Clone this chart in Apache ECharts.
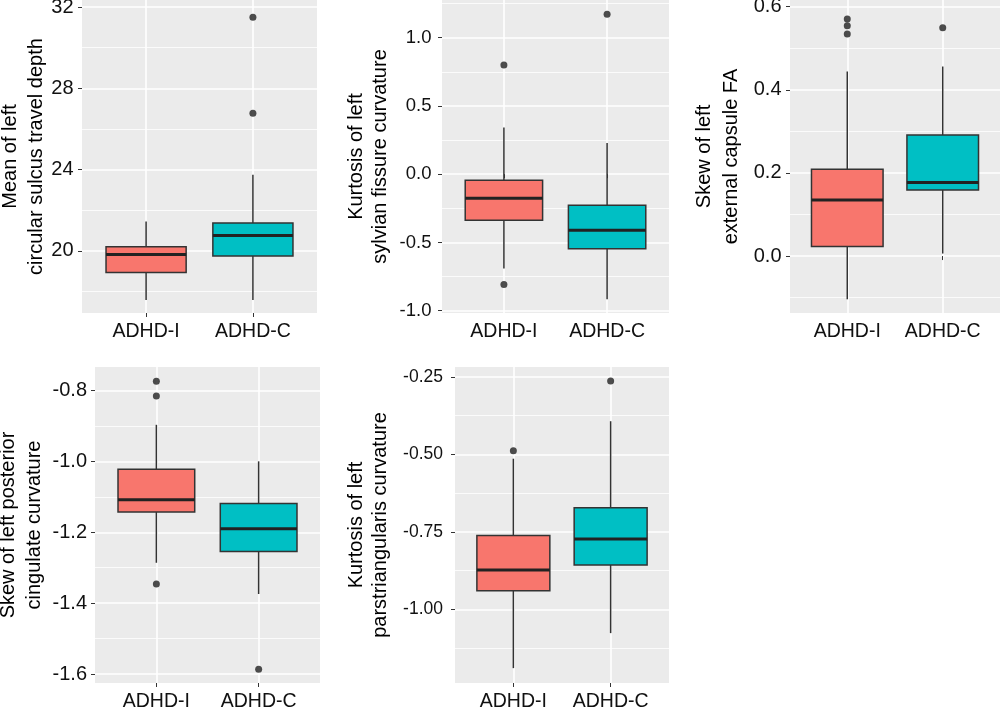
<!DOCTYPE html>
<html>
<head>
<meta charset="utf-8">
<script src="https://cdn.jsdelivr.net/npm/echarts@6/dist/echarts.min.js"></script>
<style>
html,body{margin:0;padding:0;background:#fff;}
#chart{width:1000px;height:709px;}
</style>
</head>
<body>
<div id="chart"></div>
<script>
// ---------- data ----------
const categories = ['ADHD-I', 'ADHD-C'];
const boxColors = ['#F8766D', '#00BFC4'];

// each box: [lower whisker, Q1, median, Q3, upper whisker]
const depthBoxes = [[17.58, 18.93, 19.82, 20.20, 21.45], [17.58, 19.75, 20.76, 21.37, 23.75]];
const depthOutliers = [[2, 31.5], [2, 26.77]];
const depthTicks = [20, 24, 28, 32];

const sylvianBoxes = [[-0.691, -0.337, -0.176, -0.044, 0.342], [-0.916, -0.547, -0.410, -0.227, 0.229]];
const sylvianOutliers = [[1, 0.80], [1, -0.808], [2, 1.171]];
const sylvianTicks = [-1.0, -0.5, 0.0, 0.5, 1.0];

const capsuleBoxes = [[-0.104, 0.023, 0.135, 0.209, 0.444], [0.006, 0.159, 0.177, 0.291, 0.456]];
const capsuleOutliers = [[1, 0.570], [1, 0.554], [1, 0.534], [2, 0.549]];
const capsuleTicks = [0.0, 0.2, 0.4, 0.6];

const cingulateBoxes = [[-1.286, -1.143, -1.108, -1.022, -0.897], [-1.374, -1.254, -1.190, -1.119, -1.000]];
const cingulateOutliers = [[1, -0.774], [1, -0.816], [1, -1.346], [2, -1.586]];
const cingulateTicks = [-1.6, -1.4, -1.2, -1.0, -0.8];

const parsBoxes = [[-1.190, -0.940, -0.873, -0.762, -0.514], [-1.077, -0.857, -0.773, -0.672, -0.393]];
const parsOutliers = [[1, -0.488], [2, -0.263]];
const parsTicks = [-1.00, -0.75, -0.50, -0.25];

// ---------- layout ----------
const FONT = "'Liberation Sans', Arial, Helvetica, sans-serif";
const FS = 20;
const panels = [
  {title: 'Mean of left\ncircular sulcus travel depth', boxes: depthBoxes, outliers: depthOutliers, ticks: depthTicks, dec: 0,
   min: 16.94, max: 32.35, grid: {left: 82, top: 0, width: 235, height: 313}, nameGap: 33, lh: 26, tfs: 20, tm: 8.5},
  {title: 'Kurtosis of left\nsylvian fissure curvature', boxes: sylvianBoxes, outliers: sylvianOutliers, ticks: sylvianTicks, dec: 1,
   min: -1.017, max: 1.276, grid: {left: 442, top: 0, width: 227, height: 313}, nameGap: 50, lh: 24, tfs: 18.5, tm: 10.5},
  {title: 'Skew of left\nexternal capsule FA', boxes: capsuleBoxes, outliers: capsuleOutliers, ticks: capsuleTicks, dec: 1,
   min: -0.137, max: 0.616, grid: {left: 790, top: 0, width: 210, height: 313}, nameGap: 45, lh: 26.7, tfs: 20, tm: 8.5},
  {title: 'Skew of left posterior\ncingulate curvature', boxes: cingulateBoxes, outliers: cingulateOutliers, ticks: cingulateTicks, dec: 1,
   min: -1.625, max: -0.734, grid: {left: 95, top: 367, width: 225, height: 316}, nameGap: 47.5, lh: 26, tfs: 20, tm: 8},
  {title: 'Kurtosis of left\nparstriangularis curvature', boxes: parsBoxes, outliers: parsOutliers, ticks: parsTicks, dec: 2,
   min: -1.238, max: -0.218, grid: {left: 455, top: 367, width: 214, height: 316}, nameGap: 62.5, lh: 24, tfs: 17.5, tm: 12}
];

function minorOf(ticks, min, max) {
  const step = ticks[1] - ticks[0];
  const out = [];
  for (let v = ticks[0] - step / 2; v <= max + 1e-9; v += step) {
    if (v >= min - 1e-9) out.push(+v.toFixed(6));
  }
  return out;
}

function renderBox(params, api) {
  const x = api.value(0);
  const lo = api.value(1), q1 = api.value(2), med = api.value(3), q3 = api.value(4), hi = api.value(5);
  const halfW = api.size([0.75, 0])[0] / 2;
  const pHi = api.coord([x, hi]), pQ3 = api.coord([x, q3]), pMed = api.coord([x, med]);
  const pQ1 = api.coord([x, q1]), pLo = api.coord([x, lo]);
  const cx = pHi[0];
  const stroke = '#333333';
  return {
    type: 'group',
    children: [
      {type: 'line', shape: {x1: cx, y1: pHi[1], x2: cx, y2: pQ3[1]}, style: {stroke: stroke, lineWidth: 1.5}},
      {type: 'line', shape: {x1: cx, y1: pQ1[1], x2: cx, y2: pLo[1]}, style: {stroke: stroke, lineWidth: 1.5}},
      {type: 'rect', shape: {x: cx - halfW, y: pQ3[1], width: 2 * halfW, height: pQ1[1] - pQ3[1]},
       style: {fill: boxColors[params.dataIndex], stroke: stroke, lineWidth: 1.5}},
      {type: 'line', shape: {x1: cx - halfW, y1: pMed[1], x2: cx + halfW, y2: pMed[1]}, style: {stroke: '#222222', lineWidth: 3}}
    ]
  };
}

const option = {
  animation: false,
  backgroundColor: '#ffffff',
  grid: [], xAxis: [], yAxis: [], series: []
};

panels.forEach((p, i) => {
  option.grid.push(Object.assign({show: true, backgroundColor: '#EBEBEB', borderWidth: 0,
    containLabel: false, outerBoundsMode: 'none'}, p.grid));
  option.xAxis.push({
    type: 'value', gridIndex: i, min: 0.4, max: 2.6,
    axisLine: {show: false},
    axisTick: {show: true, customValues: [1, 2], length: 4, lineStyle: {color: '#333333', width: 1}},
    axisLabel: {show: true, customValues: [1, 2], margin: 9, fontSize: 19.5, color: '#111111', fontFamily: FONT,
                formatter: v => categories[Math.round(v) - 1] || ''},
    splitLine: {show: true, lineStyle: {color: '#ffffff', width: 1.6}}
  });
  option.yAxis.push({
    type: 'value', gridIndex: i, min: p.min, max: p.max,
    name: p.title, nameLocation: 'middle', nameRotate: 90, nameGap: p.nameGap, nameMoveOverlap: false,
    nameTextStyle: {fontSize: FS, color: '#000000', fontFamily: FONT, lineHeight: p.lh, align: 'center'},
    axisLine: {show: false},
    axisTick: {show: true, customValues: p.ticks, length: 4, lineStyle: {color: '#333333', width: 1}},
    axisLabel: {show: true, customValues: p.ticks, margin: p.tm, fontSize: p.tfs, color: '#111111', fontFamily: FONT,
                formatter: v => (+v).toFixed(p.dec)},
    splitLine: {show: true, lineStyle: {color: '#ffffff', width: 1.6}}
  });
  // minor grid lines via a second (silent) y axis
  option.yAxis.push({
    type: 'value', gridIndex: i, min: p.min, max: p.max, position: 'right',
    axisLine: {show: false},
    axisTick: {show: false, customValues: minorOf(p.ticks, p.min, p.max)},
    axisLabel: {show: false, customValues: minorOf(p.ticks, p.min, p.max)},
    splitLine: {show: true, lineStyle: {color: '#ffffff', width: 0.8}}
  });
  const yIdx = option.yAxis.length - 2;
  option.series.push({
    type: 'custom', xAxisIndex: i, yAxisIndex: yIdx, silent: true, z: 3,
    renderItem: renderBox,
    encode: {x: 0, y: [1, 2, 3, 4, 5]},
    data: p.boxes.map((b, k) => [k + 1].concat(b))
  });
  option.series.push({
    type: 'scatter', xAxisIndex: i, yAxisIndex: yIdx, silent: true, z: 4,
    symbol: 'circle', symbolSize: 7,
    itemStyle: {color: '#222222'},
    data: p.outliers
  });
});

const chart = echarts.init(document.getElementById('chart'), null, {renderer: 'canvas'});
chart.setOption(option);
</script>
</body>
</html>
